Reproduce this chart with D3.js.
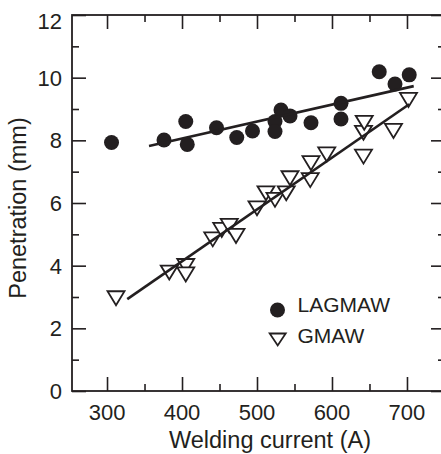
<!DOCTYPE html>
<html>
<head>
<meta charset="utf-8">
<script src="https://cdn.jsdelivr.net/npm/d3@7"></script>
<style>
  body { margin: 0; background: #fff; }
  text { font-family: "Liberation Sans", Arial, Helvetica, sans-serif; fill: #231f20; }
</style>
</head>
<body>
<div id="chart"></div>
<script>
var svgWidth = 441;
var svgHeight = 454;

// LAGMAW measurements
var lagCurrent = [306, 376, 405, 407, 446, 473, 494, 524, 524, 532, 544, 572, 612, 612, 663, 684, 703];
var lagPen = [7.93, 8.01, 8.60, 7.87, 8.40, 8.09, 8.30, 8.60, 8.28, 8.97, 8.78, 8.56, 9.18, 8.68, 10.19, 9.80, 10.09];

// GMAW measurements
var gmawCurrent = [312, 383, 405, 405, 441, 453, 463, 472, 500, 512, 524, 539, 544, 571, 572, 593, 642, 642, 643, 682, 702];
var gmawPen = [2.96, 3.78, 3.99, 3.72, 4.84, 5.14, 5.27, 4.95, 5.83, 6.31, 6.10, 6.31, 6.79, 6.73, 7.27, 7.55, 7.48, 8.24, 8.56, 8.30, 9.29];

// fitted lines (end points)
var lagFit = [[356, 7.82], [709, 9.73]];
var gmawFit = [[327, 2.93], [703, 9.15]];

var xMajor = [300, 400, 500, 600, 700];
var xMinor = [350, 450, 550, 650];
var yMajor = [0, 2, 4, 6, 8, 10, 12];
var yMinor = [1, 3, 5, 7, 9, 11];

var seriesNames = ["LAGMAW", "GMAW"];

var plot = { left: 72, right: 445, top: 15, bottom: 391 };

var svg = d3.select("#chart")
  .append("svg")
  .attr("width", svgWidth)
  .attr("height", svgHeight);

var x = d3.scaleLinear()
  .domain([253.3, 750.7])
  .range([plot.left, plot.right]);

var y = d3.scaleLinear()
  .domain([0, 12])
  .range([plot.bottom, plot.top]);

var majorLen = 14, minorLen = 7;

// ticks on all four sides, pointing inward
function tickAxis(axisFn, scale, vals, len, pos) {
  var g = svg.append("g")
    .attr("transform", pos)
    .call(axisFn(scale).tickValues(vals).tickSize(len).tickFormat(""));
  g.select(".domain").remove();
  g.selectAll("line").attr("stroke", "#231f20").attr("stroke-width", 1.6);
  return g;
}
tickAxis(d3.axisBottom, x, xMajor, -majorLen, `translate(0,${plot.bottom})`);
tickAxis(d3.axisBottom, x, xMinor, -minorLen, `translate(0,${plot.bottom})`);
tickAxis(d3.axisTop, x, xMajor, -majorLen, `translate(0,${plot.top})`);
tickAxis(d3.axisTop, x, xMinor, -minorLen, `translate(0,${plot.top})`);
tickAxis(d3.axisLeft, y, yMajor, -majorLen, `translate(${plot.left},0)`);
tickAxis(d3.axisLeft, y, yMinor, -minorLen, `translate(${plot.left},0)`);
tickAxis(d3.axisRight, y, yMajor, -majorLen, `translate(${plot.right},0)`);
tickAxis(d3.axisRight, y, yMinor, -minorLen, `translate(${plot.right},0)`);

// frame
svg.append("rect")
  .attr("x", plot.left)
  .attr("y", plot.top)
  .attr("width", plot.right - plot.left)
  .attr("height", plot.bottom - plot.top)
  .attr("fill", "none")
  .attr("stroke", "#231f20")
  .attr("stroke-width", 1.8);

// tick labels
svg.selectAll(".xlab")
  .data(xMajor)
  .enter()
  .append("text")
  .attr("x", d => x(d))
  .attr("y", 420)
  .attr("text-anchor", "middle")
  .attr("font-size", "22px")
  .text(d => d);

svg.selectAll(".ylab")
  .data(yMajor)
  .enter()
  .append("text")
  .attr("x", 62)
  .attr("y", d => Math.max(y(d), 21))
  .attr("dy", "0.36em")
  .attr("text-anchor", "end")
  .attr("font-size", "22px")
  .text(d => d);

// axis titles
svg.append("text")
  .attr("x", 270)
  .attr("y", 448)
  .attr("text-anchor", "middle")
  .attr("font-size", "23.5px")
  .text("Welding current (A)");

svg.append("text")
  .attr("transform", "translate(25.5,208) rotate(-90)")
  .attr("text-anchor", "middle")
  .attr("font-size", "23.5px")
  .text("Penetration (mm)");

var lagData = lagCurrent.map((c, i) => ({ c: c, p: lagPen[i] }));
var gmawData = gmawCurrent.map((c, i) => ({ c: c, p: gmawPen[i] }));

function triPath(w, h) {
  return `M${-w / 2},${-h / 2}L${w / 2},${-h / 2}L0,${h / 2}Z`;
}

// GMAW triangles
svg.selectAll(".tri")
  .data(gmawData)
  .enter()
  .append("path")
  .attr("d", triPath(17, 14))
  .attr("transform", d => `translate(${x(d.c)},${y(d.p)})`)
  .attr("fill", "#fff")
  .attr("stroke", "#231f20")
  .attr("stroke-width", 1.8);

// LAGMAW circles
svg.selectAll(".dot")
  .data(lagData)
  .enter()
  .append("circle")
  .attr("cx", d => x(d.c))
  .attr("cy", d => y(d.p))
  .attr("r", 7.5)
  .attr("fill", "#231f20");

// fitted lines
var line = d3.line()
  .x(d => x(d[0]))
  .y(d => y(d[1]));

[lagFit, gmawFit].forEach(function(fit) {
  svg.append("path")
    .attr("d", line(fit))
    .attr("fill", "none")
    .attr("stroke", "#231f20")
    .attr("stroke-width", 2.6);
});

// legend
svg.append("circle")
  .attr("cx", 277.5)
  .attr("cy", 310)
  .attr("r", 7.5)
  .attr("fill", "#231f20");

svg.append("path")
  .attr("d", triPath(16, 12))
  .attr("transform", "translate(277.7,339.5)")
  .attr("fill", "#fff")
  .attr("stroke", "#231f20")
  .attr("stroke-width", 1.8);

svg.selectAll(".legtext")
  .data(seriesNames)
  .enter()
  .append("text")
  .attr("x", 297.5)
  .attr("y", (d, i) => i === 0 ? 311.7 : 343.3)
  .attr("font-size", "21px")
  .text(d => d);
</script>
</body>
</html>
